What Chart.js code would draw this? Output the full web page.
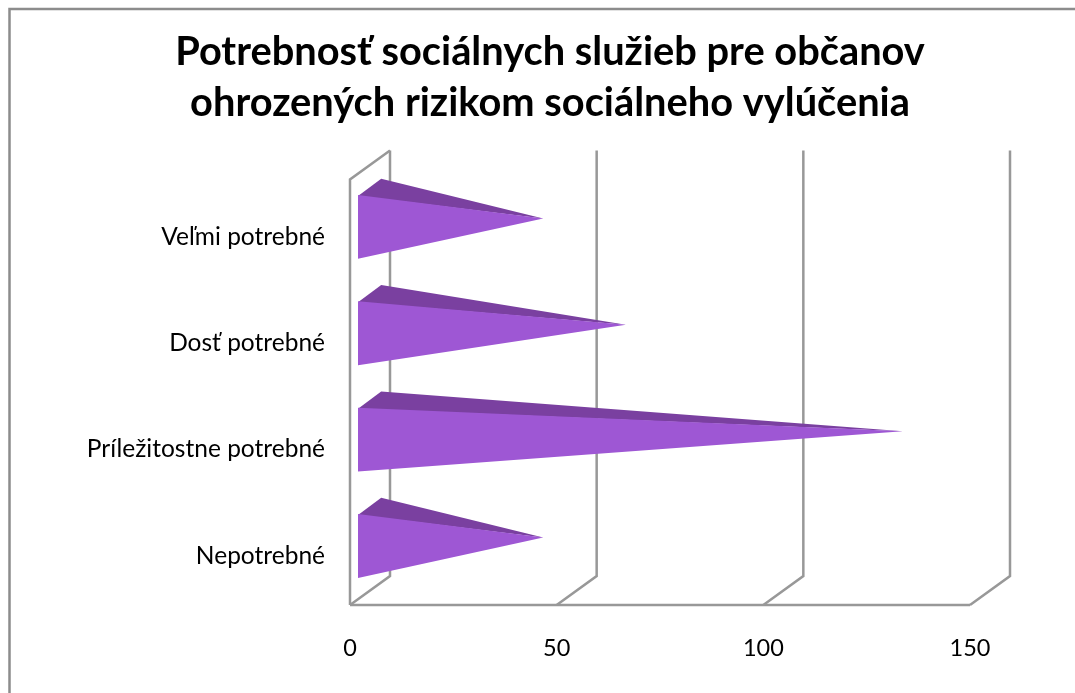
<!DOCTYPE html>
<html>
<head>
<meta charset="utf-8">
<script src="https://cdn.jsdelivr.net/npm/chart.js@4"></script>
<style>
  html, body { margin: 0; padding: 0; background: #fff; }
  canvas { display: block; }
</style>
</head>
<body>
<canvas id="pyramidChart" width="1075" height="693"></canvas>
<script>
// データ
var categories = ["Veľmi potrebné", "Dosť potrebné", "Príležitostne potrebné", "Nepotrebné"];
var values = [42, 62, 129, 42];
var tickLabels = [0, 50, 100, 150];
var titleLines = ["Potrebnosť sociálnych služieb pre občanov", "ohrozených rizikom sociálneho vylúčenia"];

// 奥行き(3D風の壁と床)
var depthX = 40;
var depthY = 29;
var gridColor = "#989898";

// 枠線と3Dのグリッド
var wallPlugin = {
  id: "wall",
  afterLayout: function (chart) {
    // タイトルの中心を合わせる
    chart.titleBlock.left = 25;
    chart.titleBlock.right = 1075;
  },
  beforeDatasetsDraw: function (chart) {
    var c = chart.ctx;
    var area = chart.chartArea;
    var xs = chart.scales.x;

    // 外枠(上と左だけ)
    c.save();
    c.strokeStyle = "#8c8c8c";
    c.lineWidth = 2.5;
    c.beginPath();
    c.moveTo(1075, 9);
    c.lineTo(9.5, 9);
    c.lineTo(9.5, 693);
    c.stroke();

    c.strokeStyle = gridColor;
    c.lineWidth = 2.5;
    // 床の手前の線
    c.beginPath();
    c.moveTo(area.left, area.bottom);
    c.lineTo(area.right, area.bottom);
    // 左の壁
    c.moveTo(area.left, area.bottom);
    c.lineTo(area.left, area.top);
    c.lineTo(area.left + depthX, area.top - depthY);
    c.stroke();

    // 目盛りごとの奥の線
    tickLabels.forEach(function (t) {
      var px = xs.getPixelForValue(t);
      c.beginPath();
      c.moveTo(px, area.bottom);
      c.lineTo(px + depthX, area.bottom - depthY);
      c.lineTo(px + depthX, area.top - depthY);
      c.stroke();
    });
    c.restore();
  }
};

// ピラミッド(棒の要素の位置から描く)
var pyramidPlugin = {
  id: "pyramid",
  afterDatasetsDraw: function (chart) {
    var c = chart.ctx;
    var xs = chart.scales.x;
    var meta = chart.getDatasetMeta(0);
    meta.data.forEach(function (bar) {
      var h = bar.height;
      var baseX = xs.getPixelForValue(0) + depthX * 0.2;
      var topY = bar.y - h / 2 - depthY * 0.2;
      var bottomY = bar.y + h / 2 - depthY * 0.2;
      var apexX = bar.x + depthX * 0.49;
      var apexY = bar.y - depthY * 0.49;

      // 上の面(手前の面と隙間が出ないよう少し下まで塗る)
      c.fillStyle = "#7a40a0";
      c.beginPath();
      c.moveTo(baseX, topY + 1);
      c.lineTo(baseX + depthX * 0.58, topY - depthY * 0.56);
      c.lineTo(apexX, apexY);
      c.closePath();
      c.fill();

      // 手前の面
      c.fillStyle = "#9e57d4";
      c.beginPath();
      c.moveTo(baseX, topY);
      c.lineTo(baseX, bottomY);
      c.lineTo(apexX, apexY);
      c.closePath();
      c.fill();
    });
  }
};

var myChart = new Chart(document.getElementById("pyramidChart"), {
  type: "bar",
  data: {
    labels: categories,
    datasets: [
      {
        data: values,
        backgroundColor: "rgba(0,0,0,0)",
        barPercentage: 0.6,
        categoryPercentage: 1
      }
    ]
  },
  plugins: [wallPlugin, pyramidPlugin],
  options: {
    indexAxis: "y",
    responsive: false,
    animation: false,
    layout: { padding: { top: 0, left: 0, right: 105, bottom: 0 } },
    plugins: {
      legend: { display: false },
      tooltip: { enabled: false },
      title: {
        display: true,
        text: titleLines,
        color: "#000",
        font: { family: "Lato", size: 39.8, weight: "bold", lineHeight: 1.3 },
        padding: { top: 26, bottom: 50 }
      }
    },
    scales: {
      x: {
        min: 0,
        max: 150,
        afterBuildTicks: function (scale) {
          scale.ticks = tickLabels.map(function (t) { return { value: t }; });
        },
        grid: { display: false },
        border: { display: false },
        ticks: { color: "#000", padding: 21, maxRotation: 0, font: { family: "Lato", size: 23.5 } },
        afterFit: function (scale) { scale.height = 88; }
      },
      y: {
        grid: { display: false },
        border: { display: false },
        ticks: { color: "#000", padding: 17, labelOffset: 4, font: { family: "Lato", size: 24.5 } },
        afterFit: function (scale) { scale.width = 350; }
      }
    }
  }
});
</script>
</body>
</html>
